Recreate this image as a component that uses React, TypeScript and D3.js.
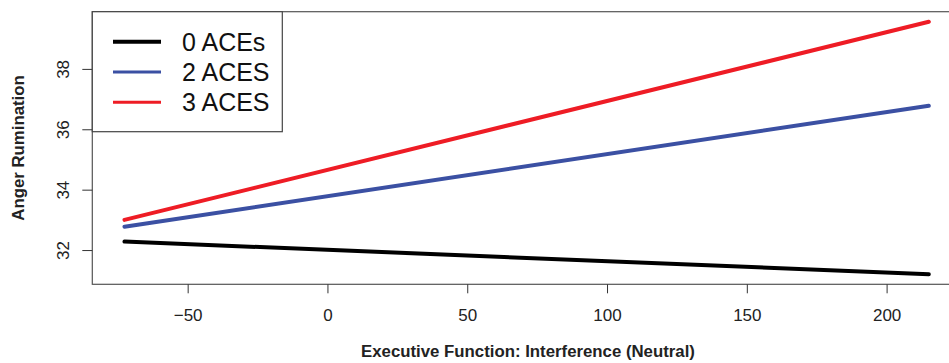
import React, { useRef, useEffect } from "react";
import * as d3 from "d3";

// predicted anger rumination at both ends of the interference range
const xEnds = [-72.6, 215.1];
const groups = ["0 ACEs", "2 ACES", "3 ACES"];
const startVals = [32.28, 32.77, 33.0];
const endVals = [31.2, 36.78, 39.56];
const colors = ["#000000", "#3b50a3", "#ee1c25"];
const xTicks = [-50, 0, 50, 100, 150, 200];
const yTicks = [32, 34, 36, 38];

export default function App() {
  const svgRef = useRef<SVGSVGElement>(null);

  useEffect(() => {
    const w = 949;
    const h = 363;
    const svg = d3.select(svgRef.current);
    svg.selectAll("*").remove();

    // R style: data range padded by 4% on each side
    const pad = (lo: number, hi: number) => {
      const d = (hi - lo) * 0.04;
      return [lo - d, hi + d];
    };
    const allY = [...startVals, ...endVals];
    const x = d3
      .scaleLinear()
      .domain(pad(xEnds[0], xEnds[1]))
      .range([92.3, 961]);
    const y = d3
      .scaleLinear()
      .domain(pad(d3.min(allY)!, d3.max(allY)!))
      .range([284.3, 11.7]);

    const font = "'Liberation Sans', Arial, Helvetica, sans-serif";

    // lines
    const line = d3
      .line<[number, number]>()
      .x((d) => x(d[0]))
      .y((d) => y(d[1]));
    groups.forEach((g, i) => {
      svg
        .append("path")
        .datum([
          [xEnds[0], startVals[i]],
          [xEnds[1], endVals[i]],
        ] as [number, number][])
        .attr("d", line)
        .attr("fill", "none")
        .attr("stroke", colors[i])
        .attr("stroke-width", 4)
        .attr("stroke-linecap", "round");
    });

    // plot box
    svg
      .append("rect")
      .attr("x", x.range()[0])
      .attr("y", y.range()[1])
      .attr("width", x.range()[1] - x.range()[0])
      .attr("height", y.range()[0] - y.range()[1])
      .attr("fill", "none")
      .attr("stroke", "#555")
      .attr("stroke-width", 1.2);

    // x axis
    const xAxis = svg
      .append("g")
      .attr("transform", `translate(0, ${y.range()[0]})`)
      .call(d3.axisBottom(x).tickValues(xTicks).tickSize(9).tickPadding(16).tickFormat((d) => {
        const v = +d;
        return v < 0 ? "\u2212" + Math.abs(v) : String(v);
      }));
    xAxis.select(".domain").remove();
    xAxis.selectAll("line").attr("stroke", "#333");
    xAxis
      .selectAll("text")
      .attr("font-family", font)
      .attr("font-size", 17)
      .attr("fill", "#222");

    // y axis
    const yAxis = svg
      .append("g")
      .attr("transform", `translate(${x.range()[0]}, 0)`)
      .call(d3.axisLeft(y).tickValues(yTicks).tickSize(10).tickFormat((d) => String(d)));
    yAxis.select(".domain").remove();
    yAxis.selectAll("line").attr("stroke", "#333");
    yAxis
      .selectAll("text")
      .attr("font-family", font)
      .attr("font-size", 17)
      .attr("fill", "#222")
      .attr("text-anchor", "middle")
      .attr("dy", null)
      .attr("x", null)
      .attr("transform", () => `translate(-29, 0) rotate(-90)`)
      .attr("dominant-baseline", "central");

    // axis titles
    svg
      .append("text")
      .attr("x", 528)
      .attr("y", 357)
      .attr("text-anchor", "middle")
      .attr("font-family", font)
      .attr("font-weight", "bold")
      .attr("font-size", 16.8)
      .attr("fill", "#222")
      .text("Executive Function: Interference (Neutral)");
    svg
      .append("text")
      .attr("transform", `translate(24, ${(y.range()[0] + y.range()[1]) / 2}) rotate(-90)`)
      .attr("text-anchor", "middle")
      .attr("font-family", font)
      .attr("font-weight", "bold")
      .attr("font-size", 16.8)
      .attr("fill", "#222")
      .text("Anger Rumination");

    // legend
    const lg = svg.append("g");
    lg.append("rect")
      .attr("x", 92.3)
      .attr("y", 11.7)
      .attr("width", 190)
      .attr("height", 120)
      .attr("fill", "white")
      .attr("stroke", "#444")
      .attr("stroke-width", 1.2);
    groups.forEach((g, i) => {
      const ly = 41.7 + i * 30.3;
      lg.append("line")
        .attr("x1", 113)
        .attr("x2", 161)
        .attr("y1", ly)
        .attr("y2", ly)
        .attr("stroke", colors[i])
        .attr("stroke-width", i === 0 ? 4 : 3);
      lg.append("text")
        .attr("x", 182)
        .attr("y", ly)
        .attr("dominant-baseline", "central")
        .attr("font-family", font)
        .attr("font-size", 25)
        .attr("fill", "#111")
        .text(g);
    });

    svg.attr("width", w).attr("height", h);
  }, []);

  return (
    <div>
      <svg
        ref={svgRef}
        style={{ position: "absolute", left: 0, top: 0, background: "white" }}
        width={949}
        height={363}
      ></svg>
    </div>
  );
}
